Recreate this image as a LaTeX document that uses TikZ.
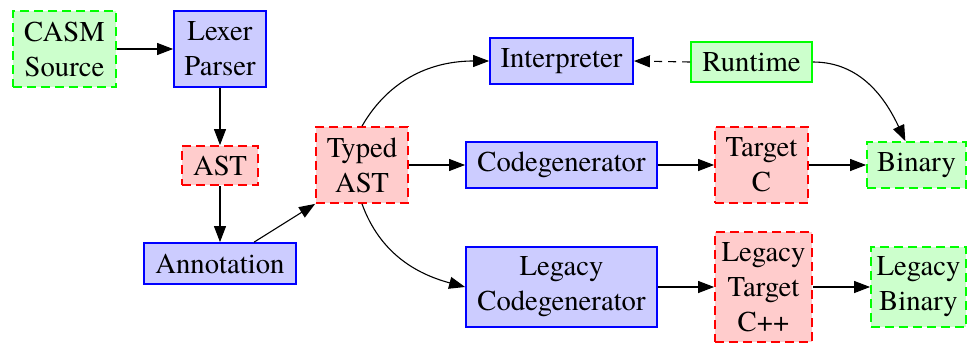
\documentclass[tikz,border=0pt]{standalone}
\usepackage{fontspec}
\setmainfont{TeX Gyre Termes}
\usetikzlibrary{arrows.meta}
\definecolor{bfill}{RGB}{204,204,255}
\definecolor{rfill}{RGB}{255,204,204}
\definecolor{gfill}{RGB}{204,255,204}
\definecolor{gline}{RGB}{0,255,0}
\tikzset{
  box/.style={rectangle, inner sep=1pt, align=center, line width=1.8pt,
    font=\rmfamily\fontsize{28.7}{35}\selectfont},
  bluebox/.style={box, draw=blue, fill=bfill},
  redbox/.style={box, draw=red, fill=rfill, dash pattern=on 9pt off 5pt},
  greenbox/.style={box, draw=gline, fill=gfill, dash pattern=on 9pt off 5pt},
  greensolid/.style={box, draw=gline, fill=gfill},
  conn/.style={line width=1.1pt, -{Triangle[length=16pt,width=12pt]}},
}
\begin{document}
\begin{tikzpicture}[x=1pt,y=-1pt]
\useasboundingbox (0,0) rectangle (967,343);
\node[greenbox, minimum width=103pt, minimum height=76pt] (src) at (64.5,49) {CASM\\Source};
\node[bluebox, minimum width=92pt, minimum height=76pt] (lex) at (220,49) {Lexer\\Parser};
\node[redbox, minimum width=76pt, minimum height=39pt] (ast) at (220,165.5) {AST};
\node[bluebox, minimum width=152pt, minimum height=41pt] (ann) at (220,263.5) {Annotation};
\node[redbox, minimum width=92pt, minimum height=76pt] (tast) at (362,165) {Typed\\AST};
\node[bluebox, minimum width=143pt, minimum height=46pt] (interp) at (561.5,61) {Interpreter};
\node[bluebox, minimum width=191pt, minimum height=46pt] (cg) at (561.5,165) {Codegenerator};
\node[greensolid, minimum width=121pt, minimum height=40pt] (rt) at (751.5,62) {Runtime};
\node[redbox, minimum width=93pt, minimum height=76pt] (tc) at (761.5,165) {Target\\C};
\node[greenbox, minimum width=99pt, minimum height=46pt] (bin) at (916.5,165) {Binary};
\node[bluebox, minimum width=191pt, minimum height=80pt] (lcg) at (561.5,287) {Legacy\\Codegenerator};
\node[redbox, minimum width=97pt, minimum height=110pt] (ltc) at (763.5,287) {Legacy\\Target\\C++};
\node[greenbox, minimum width=95pt, minimum height=80pt] (lbin) at (918.5,287) {Legacy\\Binary};

\draw[conn] (src) -- (lex);
\draw[conn] (lex) -- (ast);
\draw[conn] (ast) -- (ann);
\draw[conn] (ann) -- (tast.south west);
\draw[conn] (tast.north) to[out=60,in=180] (interp.west);
\draw[conn] (tast) -- (cg);
\draw[conn] (tast.south) to[out=-70,in=165] (lcg.west);
\draw[conn, dash pattern=on 8pt off 6pt] (rt.west) -- (interp.east);
\draw[conn] (rt.east) to[out=0,in=115] (bin);
\draw[conn] (cg) -- (tc);
\draw[conn] (tc) -- (bin);
\draw[conn] (lcg) -- (ltc);
\draw[conn] (ltc) -- (lbin);
\end{tikzpicture}
\end{document}
